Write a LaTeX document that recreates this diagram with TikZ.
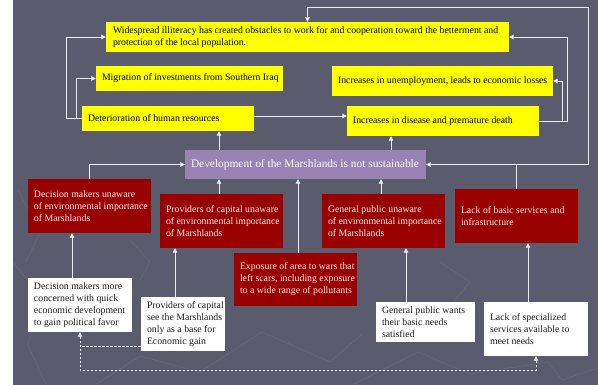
\documentclass[tikz,border=0pt]{standalone}
\usepackage{fontspec}
\setmainfont{Liberation Serif}
\usetikzlibrary{arrows.meta,calc}
\definecolor{slate}{HTML}{5A5C6E}
\definecolor{slateline}{HTML}{67697B}
\definecolor{yellowbox}{HTML}{FFFF00}
\definecolor{redbox}{HTML}{990000}
\definecolor{purplebox}{HTML}{9883B4}
\definecolor{linkwhite}{HTML}{ECECF0}
\definecolor{redtext}{HTML}{F6E8E8}
\definecolor{darktext}{HTML}{1E1E1E}
\begin{document}
\begin{tikzpicture}[x=1pt,y=-1pt,
  box/.style={rectangle, draw=none, inner sep=0pt},
  yel/.style={box, fill=yellowbox},
  purp/.style={box, fill=purplebox},
  red/.style={box, fill=redbox},
  wht/.style={box, fill=white},
  txt/.style={anchor=west, align=left, inner sep=0pt, font=\fontsize{9.8}{12}\selectfont},
  ytxt/.style={txt, text=black},
  rtxt/.style={txt, text=redtext},
  wtxt/.style={txt, text=darktext},
  tip/.tip={Triangle[length=4.5pt,width=4.5pt]},
  link/.style={draw=linkwhite, line width=0.8pt, -tip},
  dlink/.style={draw=linkwhite, line width=0.8pt, dash pattern=on 2.5pt off 1.5pt},
  texture/.style={draw=slateline, line width=0.6pt, line join=round},
]
% canvas
\fill[white] (0,0) rectangle (598,385);
\fill[slate] (13,0) rectangle (598,385);
\useasboundingbox (0,0) rectangle (598,385);

% faint background texture
\draw[texture] (13,262) -- (42,298) -- (28,345) -- (46,385);
\draw[texture] (18,190) -- (40,232) -- (26,262);
\draw[texture] (95,385) -- (140,356) -- (200,372) -- (262,332) -- (330,362) -- (362,334);
\draw[texture] (352,385) -- (418,352) -- (470,374) -- (548,362) -- (562,380) -- (598,368);
\draw[texture] (440,262) -- (470,282) -- (455,300);
\draw[texture] (130,240) -- (150,262) -- (140,280);

% effects (yellow)
\node[yel, minimum width=403, minimum height=30] (ill) at (307.5,37) {};
\node[ytxt, font=\fontsize{9.8}{11.5}\selectfont] (ill-t) at ([xshift=7]ill.west)
  {Widespread illiteracy has created obstacles to work for and cooperation toward the betterment and\\protection of the local population.};
\node[yel, minimum width=187, minimum height=25] (mig) at (189.5,78.5) {};
\node[ytxt] (mig-t) at ([xshift=6]mig.west) {Migration of investments from Southern Iraq};
\node[yel, minimum width=172, minimum height=25] (det) at (168,118.5) {};
\node[ytxt] (det-t) at ([xshift=6]det.west) {Deterioration of human resources};
\node[yel, minimum width=221, minimum height=30] (unemp) at (442.5,81) {};
\node[ytxt] (unemp-t) at ([xshift=6]unemp.west) {Increases in unemployment, leads to economic losses};
\node[yel, minimum width=192, minimum height=30] (dis) at (443,121) {};
\node[ytxt] (dis-t) at ([xshift=6]dis.west) {Increases in disease and premature death};

% central problem
\node[purp, minimum width=241, minimum height=29] (dev) at (305.5,164.5) {};
\node[txt, text=white, font=\fontsize{11.4}{13}\selectfont] (dev-t) at ([xshift=6]dev.west)
  {Development of the Marshlands is not sustainable};

% causes (red)
\node[red, minimum width=123, minimum height=54] (decU) at (89.5,206) {};
\node[rtxt] (decU-t) at ([xshift=6]decU.west) {Decision makers unaware\\of environmental importance\\of Marshlands};
\node[red, minimum width=123, minimum height=54] (provU) at (221.5,221) {};
\node[rtxt] (provU-t) at ([xshift=6]provU.west) {Providers of capital unaware\\of environmental importance\\of Marshlands};
\node[red, minimum width=123, minimum height=53] (expo) at (295.5,279.5) {};
\node[rtxt] (expo-t) at ([xshift=6]expo.west) {Exposure of area to wars that\\left scars, including exposure\\to a wide range of pollutants};
\node[red, minimum width=123, minimum height=54] (genU) at (383.5,221) {};
\node[rtxt] (genU-t) at ([xshift=6]genU.west) {General public unaware\\of environmental importance\\of Marshlands};
\node[red, minimum width=123, minimum height=54] (lackB) at (516.5,216) {};
\node[rtxt] (lackB-t) at ([xshift=6]lackB.west) {Lack of basic services and\\infrastructure};

% root causes (white)
\node[wht, minimum width=104, minimum height=54] (decM) at (80,305) {};
\node[wtxt] (decM-t) at ([xshift=6]decM.west) {Decision makers more\\concerned with quick\\economic development\\to gain political favor};
\node[wht, minimum width=84, minimum height=54] (provS) at (183,324) {};
\node[wtxt] (provS-t) at ([xshift=6]provS.west) {Providers of capital\\see the Marshlands\\only as a base for\\Economic gain};
\node[wht, minimum width=99, minimum height=40] (genW) at (425.5,322) {};
\node[wtxt] (genW-t) at ([xshift=6]genW.west) {General public wants\\their basic needs\\satisfied};
\node[wht, minimum width=104, minimum height=54] (lackS) at (536,329) {};
\node[wtxt] (lackS-t) at ([xshift=6]lackS.west) {Lack of specialized\\services available to\\meet needs};

% causes -> central problem
\draw[link] (decU.north) |- (dev.west);
\draw[link] ([xshift=-2.5]provU.north) -- ([xshift=-2.5]provU.north |- dev.south);
\draw[link] ([xshift=2.5]expo.north) -- ([xshift=2.5]expo.north |- dev.south);
\draw[link] ([xshift=-2.5]genU.north) -- ([xshift=-2.5]genU.north |- dev.south);
\draw[link] (lackB.north) |- (dev.east);
\coordinate (rt) at (588,7);
\draw[link] (lackB.north) |- (rt |- dev.east) -- (rt) -| (ill.north);

% central problem -> effects
\draw[link] ([xshift=-86.5]dev.north) -- ([xshift=-86.5]dev.north |- det.south);
\draw[link] ([xshift=85.5]dev.north) -- ([xshift=85.5]dev.north |- dis.south);
\draw[link] ([yshift=2.5]det.east) -- ([yshift=2.5]det.east -| dis.west);
\draw[link] (det.west) -- ++(-5,0) |- (mig.west);
\draw[link] (det.west) -- ++(-15,0) |- (ill.west);
\draw[link] (dis.east) -- ++(23,0) |- (unemp.east);
\draw[link] (dis.east) -- ++(28,0) |- (ill.east);

% root causes -> causes
\draw[link] ([xshift=-8]decM.north) -- ([xshift=-8]decM.north |- decU.south);
\draw[link] ([xshift=-8]provS.north) -- ([xshift=-8]provS.north |- provU.south);
\draw[link] ([xshift=-19.5]genW.north) -- ([xshift=-19.5]genW.north |- genU.south);
\draw[link] ([xshift=-8]lackS.north) -- ([xshift=-8]lackS.north |- lackB.south);

% dashed links between root causes
\coordinate (dl) at (0,370);
\draw[dlink, tip-tip] (decM.south) -- (decM.south |- dl) -| (lackS.south);
\coordinate (pj) at ([yshift=-22]provS.west);
\draw[dlink] (pj) -- (pj -| decM.south);
\end{tikzpicture}
\end{document}
